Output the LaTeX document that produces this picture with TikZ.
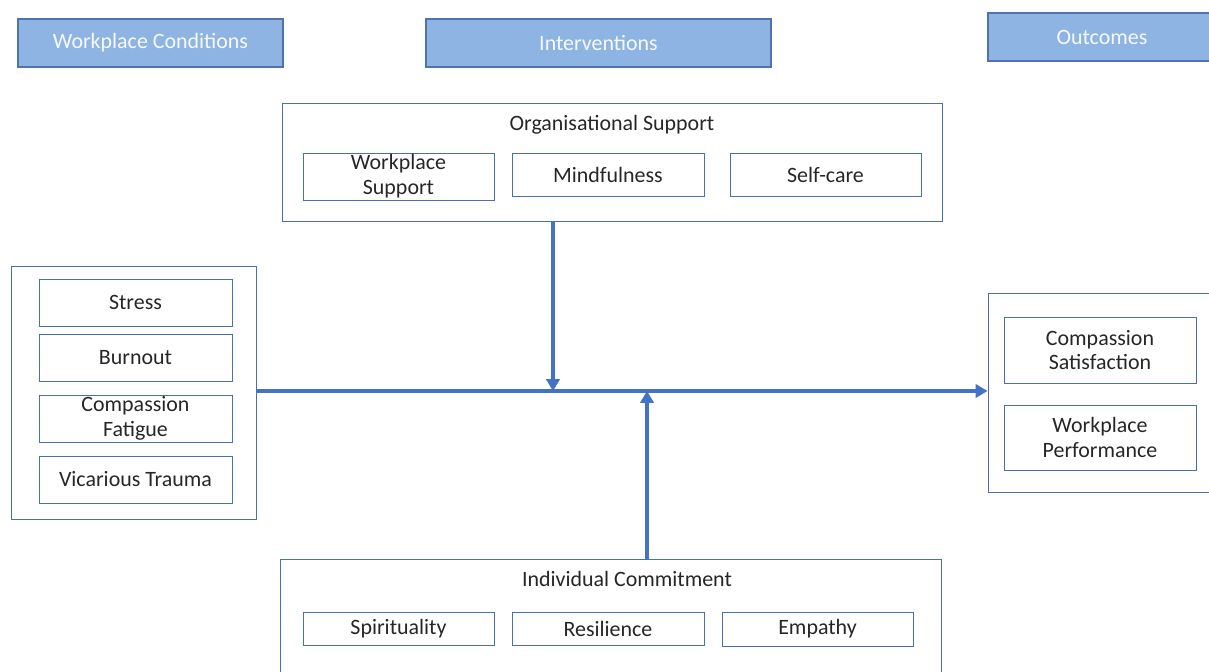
\documentclass[tikz,border=0pt]{standalone}
\usepackage{fontspec}
\setmainfont{Carlito}
\usetikzlibrary{arrows.meta,fit}
\definecolor{hdrfill}{HTML}{8EB4E3}
\definecolor{hdrline}{HTML}{4F74AC}
\definecolor{boxline}{HTML}{4A6FAE}
\definecolor{flow}{HTML}{4472C4}
\definecolor{ink}{HTML}{262626}
\tikzset{
  hdr/.style={draw=hdrline, fill=hdrfill, line width=0.8pt, inner sep=0pt},
  hdrtext/.style={label={[text=white!92!hdrfill]center:#1}},
  outerbox/.style={draw=boxline, line width=0.7pt, inner sep=0pt},
  itembox/.style={draw=boxline, line width=0.7pt, inner sep=0pt},
  itemtext/.style={label={[align=center, text=ink]center:#1}},
  flowline/.style={draw=flow, line width=2.6pt, -{Triangle[width=9.5pt,length=8.5pt]}}
}
\begin{document}
\begin{tikzpicture}[x=0.025cm, y=-0.025cm, font=\fontsize{15.6}{17.7}\selectfont]
      \useasboundingbox (0,0) rectangle (1209,671);
      %cabeceras
      \node[hdr, fit={(18,19) (283,67)}, hdrtext={Workplace Conditions}] (hcond) {};
      \node[hdr, fit={(426,19) (771,67)}, hdrtext={Interventions}] (hint) {};
      \node[hdr, fit={(988,13) (1216,61)}, hdrtext={Outcomes}] (hout) {};
      %apoyo organizacional
      \node[outerbox, fit={(282,103) (942,221)}] (org) {};
      \node[text=ink] (orgt) at (612,125) {Organisational Support};
      \node[itembox, fit={(303,153) (494,200)}, itemtext={Workplace\\Support}] (wsup) {};
      \node[itembox, fit={(512,153) (704,196)}, itemtext={Mindfulness}] (mind) {};
      \node[itembox, fit={(730,153) (921,196)}, itemtext={Self-care}] (self) {};
      %condiciones
      \node[outerbox, fit={(11,266) (256,519)}] (cond) {};
      \node[itembox, fit={(39,279) (232,326)}, itemtext={Stress}] (stress) {};
      \node[itembox, fit={(39,334) (232,381)}, itemtext={Burnout}] (burn) {};
      \node[itembox, fit={(39,395) (232,442)}, itemtext={Compassion\\Fatigue}] (cfat) {};
      \node[itembox, fit={(39,456) (232,503)}, itemtext={Vicarious Trauma}] (vtra) {};
      %resultados
      \node[outerbox, fit={(988,293) (1216,492)}] (outc) {};
      \node[itembox, fit={(1004,317) (1196,383)}, itemtext={Compassion\\Satisfaction}] (csat) {};
      \node[itembox, fit={(1004,405) (1196,470)}, itemtext={Workplace\\Performance}] (wperf) {};
      %compromiso individual
      \node[outerbox, fit={(280,559) (941,680)}] (indiv) {};
      \node[text=ink] (indivt) at (627,579) {Individual Commitment};
      \node[itembox, fit={(303,612) (494,645)}, itemtext={Spirituality}] (spir) {};
      \node[itembox, fit={(512,612) (704,645)}, itemtext={Resilience}] (resil) {};
      \node[itembox, fit={(722,612) (913,646)}, itemtext={Empathy}] (emp) {};
      %flechas
      \coordinate (jdown) at (553,391);
      \coordinate (jup) at (647,391);
      \draw[flowline] (cond.east |- jdown) -- (outc.west |- jdown);
      \draw[flowline] (org.south -| jdown) -- (jdown);
      \draw[flowline] (indiv.north -| jup) -- (jup);
\end{tikzpicture}
\end{document}
